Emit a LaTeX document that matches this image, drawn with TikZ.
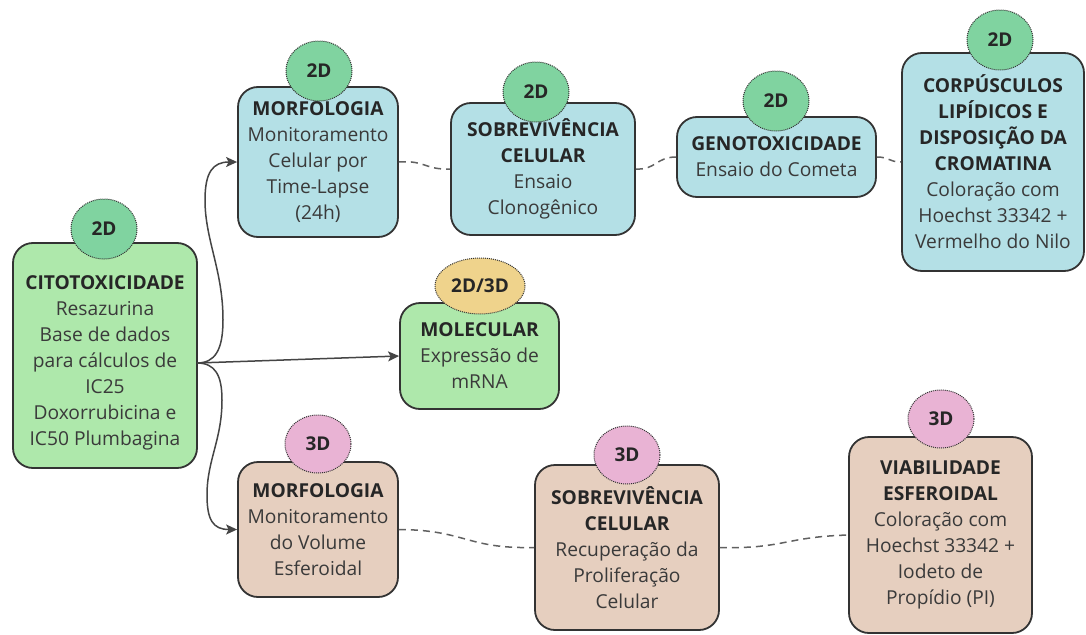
\documentclass[tikz,border=0pt]{standalone}
\usepackage{fontspec}
\setmainfont{Open Sans}
\usetikzlibrary{arrows.meta,shapes.geometric}
\definecolor{boxblue}{HTML}{B4E0E6}
\definecolor{boxgreen}{HTML}{AEE8AB}
\definecolor{boxbrown}{HTML}{E6CFBF}
\definecolor{badgegreen}{HTML}{80D3A0}
\definecolor{badgepink}{HTML}{E9B3D4}
\definecolor{badgeyellow}{HTML}{EFD38C}
\definecolor{linec}{HTML}{333333}
\definecolor{connc}{HTML}{454545}
\definecolor{textc}{HTML}{3A3A3A}
\tikzset{
  box/.style={draw=linec, line width=1.8pt, rounded corners=20pt, align=center,
    font=\fontsize{19.2}{26}\selectfont, text=textc, inner sep=0pt},
  txt/.style={align=center, font=\fontsize{19.2}{26}\selectfont, text=textc, inner sep=0pt},
  badge/.style={ellipse, draw=linec, line width=1pt, dash pattern=on 1pt off 1pt,
    minimum width=66pt, minimum height=60pt, inner sep=0pt,
    font=\fontsize{19}{22}\selectfont\bfseries, text=black!85},
  arr/.style={draw=connc, line width=1.5pt, -{Stealth[length=11pt,width=10pt,inset=2.5pt]}},
  dashc/.style={draw=connc!85, line width=1.5pt, dash pattern=on 7pt off 5pt}
}
\newcommand{\hd}[1]{\textbf{\color{black!85}#1}}
\begin{document}
\begin{tikzpicture}[x=1pt,y=-1pt]
\useasboundingbox (0,0) rectangle (1086,634);
\fill[white] (0,0) rectangle (1086,634);

% boxes
\node[box, fill=boxgreen, minimum width=184pt, minimum height=225pt] (cit) at (105,355.5) {};
\node[txt] (citT) at (105,363) {\hd{CITOTOXICIDADE}\\Resazurina\\Base de dados\\para cálculos de\\IC25\\Doxorrubicina e\\IC50 Plumbagina};

\node[box, fill=boxblue, minimum width=160pt, minimum height=150pt] (morf) at (318,162)
  {\hd{MORFOLOGIA}\\Monitoramento\\Celular por\\Time-Lapse\\(24h)};
\node[box, fill=boxblue, minimum width=184pt, minimum height=132pt] (sob) at (543,169)
  {\hd{SOBREVIVÊNCIA}\\\hd{CELULAR}\\Ensaio\\Clonogênico};
\node[box, fill=boxblue, minimum width=199pt, minimum height=80pt] (geno) at (776.5,157)
  {\hd{GENOTOXICIDADE}\\Ensaio do Cometa};
\node[box, fill=boxblue, minimum width=182pt, minimum height=218pt] (corp) at (993,162)
  {\hd{CORPÚSCULOS}\\\hd{LIPÍDICOS E}\\\hd{DISPOSIÇÃO DA}\\\hd{CROMATINA}\\Coloração com\\Hoechst 33342 +\\Vermelho do Nilo};

\node[box, fill=boxgreen, minimum width=159pt, minimum height=106pt] (mol) at (479.5,356)
  {\hd{MOLECULAR}\\Expressão de\\mRNA};

\node[box, fill=boxbrown, minimum width=160pt, minimum height=135pt] (morf3) at (318,529.5)
  {\hd{MORFOLOGIA}\\Monitoramento\\do Volume\\Esferoidal};
\node[box, fill=boxbrown, minimum width=184pt, minimum height=165pt] (sob3) at (627,547.5)
  {\hd{SOBREVIVÊNCIA}\\\hd{CELULAR}\\Recuperação da\\Proliferação\\Celular};
\node[box, fill=boxbrown, minimum width=183pt, minimum height=196pt] (viab) at (940.5,535)
  {\hd{VIABILIDADE}\\\hd{ESFEROIDAL}\\Coloração com\\Hoechst 33342 +\\Iodeto de\\Propídio (PI)};

% badges
\node[badge, fill=badgegreen] (bcit) at (104,229) {2D};
\node[badge, fill=badgegreen] (bmorf) at (319,71) {2D};
\node[badge, fill=badgegreen] (bsob) at (536,92) {2D};
\node[badge, fill=badgegreen] (bgeno) at (776,101) {2D};
\node[badge, fill=badgegreen] (bcorp) at (1000,40) {2D};
\node[badge, fill=badgeyellow, minimum width=90pt, minimum height=56pt] (bmol) at (480,286) {2D/3D};
\node[badge, fill=badgepink, minimum height=58pt] (bmorf3) at (318,444) {3D};
\node[badge, fill=badgepink, minimum height=58pt] (bsob3) at (627,455) {3D};
\node[badge, fill=badgepink, minimum height=58pt] (bviab) at (941,419) {3D};

% connectors from citotoxicidade
\coordinate (j) at (197,363);
\draw[arr] (j) .. controls (215,363) and (223,350) .. (223,320)
  .. controls (223,270) and (205,240) .. (205,200)
  .. controls (205,172) and (213,162) .. (morf.west);
\draw[arr] (j) -- (mol.west);
\draw[arr] (j) .. controls (215,363) and (222,375) .. (222,400)
  .. controls (222,440) and (207,460) .. (207,495)
  .. controls (207,520) and (213,529.5) .. (morf3.west);

% dashed links
\draw[dashc] (morf.east) .. controls (425,160) and (425,170) .. (sob.west);
\draw[dashc] (sob.east) .. controls (656,170) and (656,157) .. (geno.west);
\draw[dashc] (geno.east) .. controls (889,157) and (889,162) .. (corp.west);
\draw[dashc] (morf3.east) .. controls (466,530) and (466,549) .. (sob3.west);
\draw[dashc] (sob3.east) .. controls (784,549) and (784,537) .. (viab.west);
\end{tikzpicture}
\end{document}
